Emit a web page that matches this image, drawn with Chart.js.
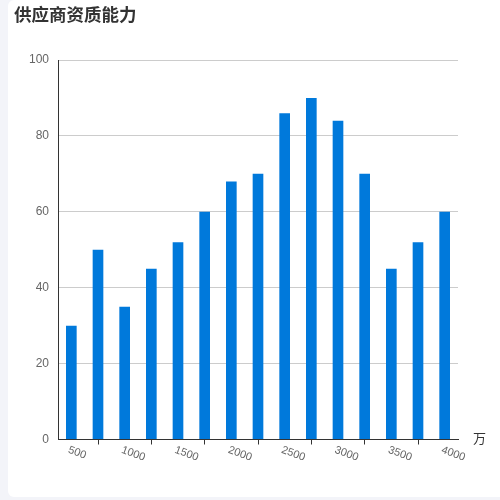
<!DOCTYPE html>
<html>
<head>
<meta charset="utf-8">
<script src="https://cdn.jsdelivr.net/npm/chart.js@4"></script>
<style>
  html, body { margin: 0; padding: 0; background: #f3f4f9; width: 500px; height: 500px; overflow: hidden; }
  #card { position: absolute; left: 8px; top: 0; width: 500px; height: 497px; background: #fff; border-radius: 6px; }
  #wrap { position: absolute; left: 0; top: 0; width: 492px; height: 497px; }
</style>
</head>
<body>
<div id="card"><div id="wrap"><canvas id="bar"></canvas></div></div>
<script>
// dados do grafico
const categorias = ['500', '750', '1000', '1250', '1500', '1750', '2000', '2250', '2500', '2750', '3000', '3250', '3500', '3750', '4000']
const valores = [30, 50, 35, 45, 52, 60, 68, 70, 86, 90, 84, 70, 45, 52, 60]
const titulo = '供应商资质能力'
const unidade = '万'

// titulo, rotulos girados do eixo x e unidade
const extras = {
    id: 'extras',
    afterDraw(chart) {
        const ctx = chart.ctx
        const x = chart.scales.x
        const area = chart.chartArea
        ctx.save()
        ctx.fillStyle = '#333'
        ctx.font = 'bold 17.5px "Noto Sans CJK SC"'
        ctx.textBaseline = 'middle'
        ctx.textAlign = 'left'
        ctx.fillText(titulo, 6, 14)

        ctx.font = '13px "Noto Sans CJK SC"'
        ctx.fillText(unidade, area.right + 15, area.bottom - 1)

        ctx.fillStyle = '#666'
        ctx.font = '11px "Liberation Sans"'
        ctx.textBaseline = 'top'
        categorias.forEach((c, i) => {
            if (i % 2 !== 0) return
            ctx.save()
            ctx.translate(x.getPixelForValue(i) - 1, area.bottom + 5)
            ctx.rotate(20 * Math.PI / 180)
            ctx.fillText(c, 0, 0)
            ctx.restore()
        })
        ctx.restore()
    }
}

const bar = document.getElementById('bar')

new Chart(bar, {
    type: 'bar',
    data: {
        labels: categorias,
        datasets: [
            {
                data: valores,
                backgroundColor: '#0079db',
                barPercentage: 0.4,
                categoryPercentage: 1
            }
        ]
    },
    options: {
        responsive: true,
        maintainAspectRatio: false,
        animation: false,
        events: [],
        layout: {
            padding: { top: 60, left: 0, right: 42, bottom: 0 }
        },
        plugins: {
            legend: { display: false },
            title: { display: false },
            tooltip: { enabled: false }
        },
        scales: {
            x: {
                offset: true,
                afterFit: (s) => { s.height = 57.5 },
                border: { color: '#333', width: 1 },
                grid: {
                    offset: false,
                    drawOnChartArea: false,
                    drawTicks: true,
                    tickLength: 5,
                    tickColor: (c) => c.index % 2 === 1 ? '#333' : 'rgba(0,0,0,0)'
                },
                ticks: { display: false }
            },
            y: {
                min: 0,
                max: 100,
                afterFit: (s) => { s.width = 50 },
                border: { color: '#333', width: 1 },
                grid: {
                    color: (c) => c.tick.value === 0 ? 'rgba(0,0,0,0)' : '#cccccc',
                    drawTicks: false
                },
                ticks: {
                    stepSize: 20,
                    padding: 9,
                    color: '#666',
                    font: { family: 'Liberation Sans', size: 12 }
                }
            }
        }
    },
    plugins: [extras]
})
</script>
</body>
</html>
